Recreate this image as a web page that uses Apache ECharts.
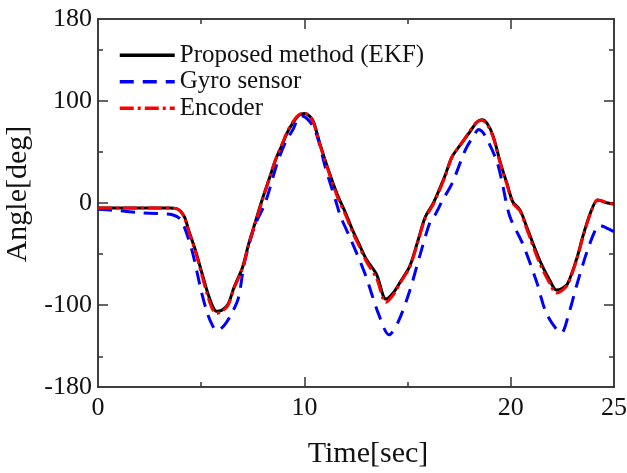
<!DOCTYPE html>
<html>
<head>
<meta charset="utf-8">
<title>Angle</title>
<script src="https://cdn.jsdelivr.net/npm/echarts@6/dist/echarts.min.js"></script>
<style>
  html, body { margin: 0; padding: 0; background: #fff; }
  #chart { width: 627px; height: 473px; }
</style>
</head>
<body>
<div id="chart"></div>
<script>
// time axis shared by EKF and encoder traces [sec]
const ekfTime = [0, 1, 2, 3, 3.5, 3.8, 4.0, 4.2, 4.4, 4.7, 5.0, 5.3, 5.55, 5.75, 6.0, 6.3, 6.6, 7.0, 7.3, 7.6, 7.95,
  8.3, 8.6, 8.9, 9.2, 9.5, 9.75, 10.0, 10.25, 10.45, 10.75, 11.15, 11.6, 12.0, 12.3, 12.6, 13.0, 13.5, 13.95,
  14.3, 14.65, 15.1, 15.5, 15.85, 16.25, 16.8, 17.15, 17.6, 18.0, 18.35, 18.6, 18.85, 19.15, 19.5, 19.8, 20.1,
  20.45, 20.8, 21.4, 21.9, 22.2, 22.45, 22.75, 23.2, 23.5, 23.85, 24.2, 24.4, 24.7, 25];
const ekfAngle = [-5, -5, -5, -5, -5, -5.5, -8, -14, -27, -45, -66, -87, -101, -106, -105, -99, -82, -63, -40, -20, 3,
  24, 42, 56, 70, 80, 86, 87.5, 85, 79, 58, 33, 8, -10, -25, -38, -55, -70, -94,
  -88, -77, -62, -37, -14, 0, 26, 45, 58, 69, 79, 81.5, 78, 65, 39, 20, 1,
  -7, -25, -56, -76, -85, -84, -79, -54, -32, -10, 3, 2, 0, -1];
const encAngle = [-5, -5, -5, -5, -5, -5.5, -8, -15, -28, -46, -68, -90, -104, -108, -106, -100, -83, -64, -41, -21, 2,
  24, 42, 57, 71, 81, 86.5, 88, 85, 78, 57, 32, 6, -12, -27, -40, -57, -74, -97,
  -90, -78, -63, -38, -15, -1, 25, 45, 58, 70, 79, 81, 77, 64, 38, 19, 0,
  -8, -27, -59, -79, -88, -86, -80, -55, -33, -11, 3, 2, 0, -1];

// gyro integration drifts, so it has its own samples
const gyroTime = [0, 1, 2, 3, 3.6, 4.0, 4.3, 4.6, 5.0, 5.3, 5.55, 5.75, 6.1, 6.45, 6.8, 7.1, 7.6, 8.1, 8.7, 9.1, 9.45,
  9.7, 9.9, 10.15, 10.45, 10.7, 11.0, 11.55, 11.75, 12.3, 12.95, 13.6, 14.1, 14.55, 15.1, 15.6, 16.1, 16.35,
  16.7, 17.15, 17.8, 18.15, 18.45, 18.75, 19.3, 19.55, 19.95, 20.6, 21.25, 21.75, 22.45, 22.8, 23.2, 23.7,
  24.15, 24.3, 24.6, 25];
const gyroAngle = [-6, -7.5, -9.5, -10.5, -11.5, -16, -30, -50, -86, -108, -120, -125, -120, -109, -93, -58, -22, 0, 40, 60, 72,
  83, 85, 82, 74, 60, 36, 0, -13, -38, -70, -109, -129, -116, -86, -51, -18, -11,
  3, 19, 52, 64, 72, 66, 42, 23, -13, -41, -77, -109, -127, -109, -80, -47,
  -24, -22, -24, -28];

const seriesNames = ['Proposed method (EKF)', 'Gyro sensor', 'Encoder'];
const xLabels = [0, 10, 20, 25];
const xMajor = [10, 20];
const xMinor = [5, 15];
const yLabels = [-180, -100, 0, 100, 180];
const yMajor = [-100, 0, 100];
const yMinor = [-150, -50, 50, 150];

const font = 'Liberation Serif';
const axisColor = '#333';

function pairs(xs, ys) {
  return xs.map((x, i) => [x, ys[i]]);
}

// one axis per tick length, stacked on the same edge
function xAxisOf(pos, ticks, len, labels) {
  return {
    type: 'value', position: pos, min: 0, max: 25,
    axisLine: { show: true, onZero: false, lineStyle: { color: axisColor, width: 1.5 } },
    axisTick: { show: true, inside: true, length: len, customValues: ticks, lineStyle: { color: axisColor, width: 1.5 } },
    axisLabel: labels ? {
      show: true, customValues: labels, margin: 8,
      fontFamily: font, fontSize: 26, color: '#111'
    } : { show: false },
    splitLine: { show: false }
  };
}
function yAxisOf(pos, ticks, len, labels) {
  return {
    type: 'value', position: pos, min: -180, max: 180,
    axisLine: { show: true, onZero: false, lineStyle: { color: axisColor, width: 1.5 } },
    axisTick: { show: true, inside: true, length: len, customValues: ticks, lineStyle: { color: axisColor, width: 1.5 } },
    axisLabel: labels ? {
      show: true, customValues: labels, margin: 6,
      fontFamily: font, fontSize: 26, color: '#111'
    } : { show: false },
    splitLine: { show: false }
  };
}

const chart = echarts.init(document.getElementById('chart'));

const xAxes = [
  xAxisOf('bottom', xMajor, 10, xLabels),
  xAxisOf('bottom', xMinor, 5),
  xAxisOf('top', xMajor, 10),
  xAxisOf('top', xMinor, 5)
];
xAxes[0].name = 'Time[sec]';
xAxes[0].nameLocation = 'middle';
xAxes[0].nameGap = 52;
xAxes[0].nameTextStyle = { fontFamily: font, fontSize: 30, color: '#111', padding: [0, 0, 0, 24] };

const yAxes = [
  yAxisOf('left', yMajor, 10, yLabels),
  yAxisOf('left', yMinor, 5),
  yAxisOf('right', yMajor, 10),
  yAxisOf('right', yMinor, 5)
];
yAxes[0].name = 'Angle[deg]';
yAxes[0].nameLocation = 'middle';
yAxes[0].nameGap = 60;
yAxes[0].nameTextStyle = { fontFamily: font, fontSize: 30, color: '#111', padding: [0, 0, 0, 18] };

chart.setOption({
  animation: false,
  backgroundColor: '#fff',
  grid: { left: 98, right: 13, top: 19, bottom: 86, outerBoundsMode: 'none' },
  legend: {
    orient: 'vertical', left: 113, top: 37,
    data: seriesNames,
    itemWidth: 55, itemHeight: 14, itemGap: 0,
    // hide the marker circle, keep only the line sample
    itemStyle: { color: 'transparent', borderWidth: 0, opacity: 0 },
    lineStyle: { width: 3.5 },
    textStyle: { fontFamily: font, fontSize: 25, lineHeight: 26.5, color: '#111' }
  },
  xAxis: xAxes,
  yAxis: yAxes,
  series: [
    {
      name: seriesNames[0], type: 'line', data: pairs(ekfTime, ekfAngle),
      symbol: 'none', smooth: 0.3, z: 2,
      itemStyle: { color: '#000' },
      lineStyle: { color: '#000', width: 3 }
    },
    {
      name: seriesNames[1], type: 'line', data: pairs(gyroTime, gyroAngle),
      symbol: 'none', smooth: 0.3, z: 3,
      itemStyle: { color: '#0000ff' },
      lineStyle: { color: '#0000ff', width: 3, type: [14, 9] }
    },
    {
      name: seriesNames[2], type: 'line', data: pairs(ekfTime, encAngle),
      symbol: 'none', smooth: 0.3, z: 4,
      itemStyle: { color: '#ff0000' },
      lineStyle: { color: '#ff0000', width: 3, type: [14, 4, 3, 4] }
    }
  ]
});
</script>
</body>
</html>
